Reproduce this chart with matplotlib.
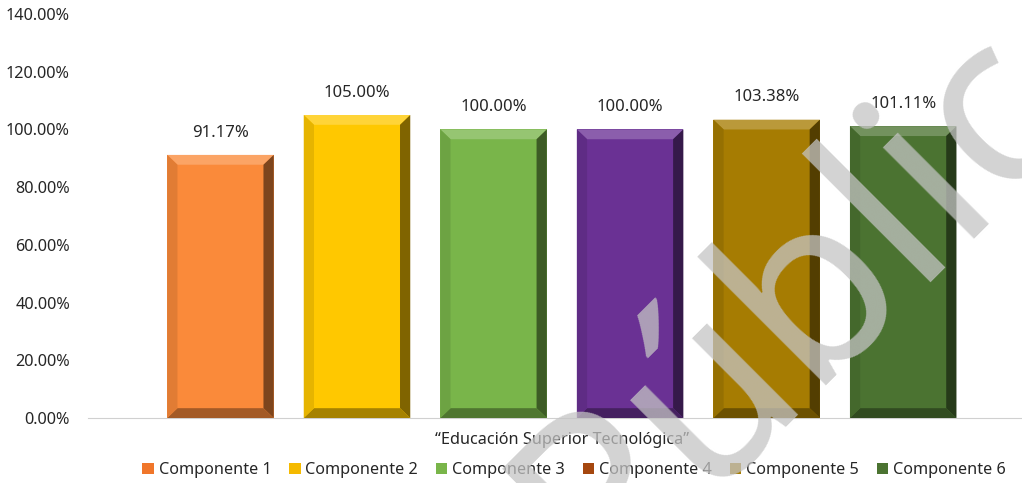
import numpy as np
import matplotlib.pyplot as plt
from matplotlib.patches import Polygon, Patch
from matplotlib.colors import to_rgb

plt.rcParams['font.family'] = ['Noto Sans', 'DejaVu Sans']

componentes = ["Componente 1", "Componente 2", "Componente 3",
               "Componente 4", "Componente 5", "Componente 6"]
valores = [91.17, 105.00, 100.00, 100.00, 103.38, 101.11]
colores = ["#FA8A3A", "#FFC800", "#79B54A", "#6A3194", "#A67C02", "#4B7331"]
colores_leyenda = ["#F0762A", "#F5BA00", "#79B54A", "#A5470F", "#A67C02", "#4B7331"]
categoria = "“Educación Superior Tecnológica”"
ticks_y = [0, 20, 40, 60, 80, 100, 120, 140]


def shade(c, f):
    r, g, b = to_rgb(c)
    if f < 1:
        return (r * f, g * f, b * f)
    f = f - 1
    return (r + (1 - r) * f, g + (1 - g) * f, b + (1 - b) * f)


fig = plt.figure(figsize=(10.22, 4.83), dpi=100)
ax = fig.add_axes([88 / 1022, 1 - 418 / 483, 1 - 88 / 1022, (418 - 14) / 483])

x = np.arange(len(valores))
bars = ax.bar(x, valores, width=0.78, color=colores, zorder=2)

# bevel effect built from each bar's own geometry
bx = 0.075
by = 3.4
for b, c in zip(bars, colores):
    x0, y0 = b.get_x(), b.get_y()
    x1, y1 = x0 + b.get_width(), y0 + b.get_height()
    ix0, ix1, iy0, iy1 = x0 + bx, x1 - bx, y0 + by, y1 - by
    faces = [
        ([(x0, y1), (x1, y1), (ix1, iy1), (ix0, iy1)], shade(c, 1.22)),
        ([(x1, y1), (x1, y0), (ix1, iy0), (ix1, iy1)], shade(c, 0.5)),
        ([(x0, y0), (x1, y0), (ix1, iy0), (ix0, iy0)], shade(c, 0.65)),
        ([(x0, y0), (x0, y1), (ix0, iy1), (ix0, iy0)], shade(c, 0.9)),
    ]
    for pts, fc in faces:
        ax.add_patch(Polygon(pts, closed=True, facecolor=fc, edgecolor='none', zorder=3))
    ax.annotate(f"{b.get_height():.2f}%", (b.get_x() + b.get_width() / 2, y1),
                xytext=(0, 16), textcoords='offset points', ha='center', va='center',
                fontsize=12, color='#262626')

ax.set_ylim(0, 140)
ax.set_xlim(-0.97, 5.87)
ax.set_yticks(ticks_y)
ax.set_yticklabels([f"{t:.2f}%" for t in ticks_y], fontsize=11.7, color='#262626')
ax.tick_params(axis='y', length=0, pad=13)
ax.set_xticks([])
for s in ['top', 'right', 'left']:
    ax.spines[s].set_visible(False)
ax.spines['bottom'].set_color('#D0D0D0')
ax.spines['bottom'].set_zorder(1)

fig.text(562 / 1022, 1 - 440 / 483, categoria, ha='center', va='center',
         fontsize=11.7, color='#262626')

handles = [Patch(facecolor=c, edgecolor='none') for c in colores_leyenda]
fig.legend(handles, componentes, loc='center', bbox_to_anchor=(574 / 1022, 1 - 470 / 483),
           ncol=6, frameon=False, fontsize=11.7, handlelength=0.7, handleheight=0.7,
           handletextpad=0.3, columnspacing=1.1, labelcolor='#262626')

# watermark
fig.text(847 / 1022, 1 - 255 / 483, "Público", rotation=45, rotation_mode='anchor',
         ha='center', va='center', fontsize=172, color='#C4C4C4', alpha=0.75,
         fontweight='normal', zorder=10)

fig.savefig("out.png", dpi=100)
